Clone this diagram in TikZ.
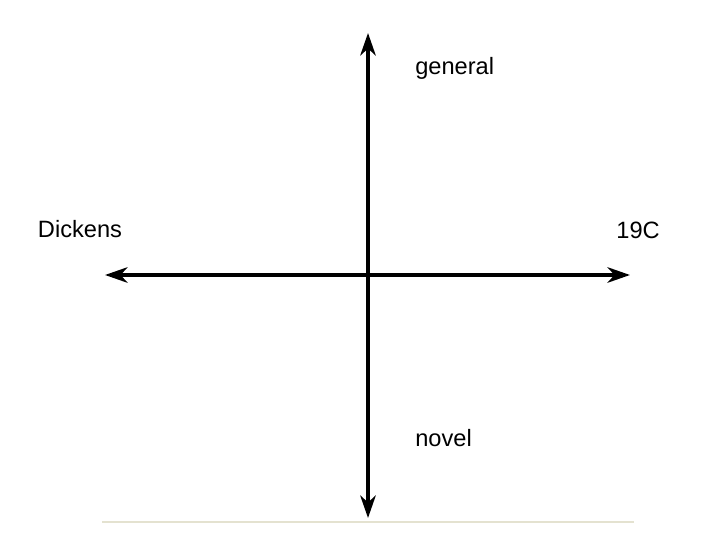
\documentclass[tikz,border=0pt]{standalone}
\usepackage{fontspec}
\setmainfont{Liberation Sans}
\definecolor{axisblack}{RGB}{0,0,0}
\definecolor{paleline}{RGB}{228,226,208}
\usetikzlibrary{arrows.meta, positioning}

\begin{document}
\begin{tikzpicture}[x=0.025cm, y=0.025cm,
    axis/.style={line width=2.7pt, axisblack, {Stealth[length=16pt, width=11pt, inset=5pt]}-{Stealth[length=16pt, width=11pt, inset=5pt]}},
    tag/.style={font=\fontsize{16.8}{20}\selectfont, inner sep=0pt}]
  \useasboundingbox (0,0) rectangle (720,540);
  % axis ends
  \coordinate (top) at (368,507);
  \coordinate (bottom) at (368,22);
  \coordinate (left) at (105,265);
  \coordinate (right) at (630,265);
  \draw[axis] (top) -- (bottom);
  \draw[axis] (left) -- (right);
  % labels
  \node[tag, anchor=west] (general) at (415,472) {general};
  \node[tag] (dickens) at (80,311) {Dickens};
  \node[tag, anchor=east] (century) at (660,310) {19C};
  \node[tag, anchor=west] (novel) at (415,102) {novel};
  % base rule
  \coordinate (ruleL) at (102,18);
  \coordinate (ruleR) at (634,18);
  \draw[paleline, line width=1pt] (ruleL) -- (ruleR);
\end{tikzpicture}
\end{document}
